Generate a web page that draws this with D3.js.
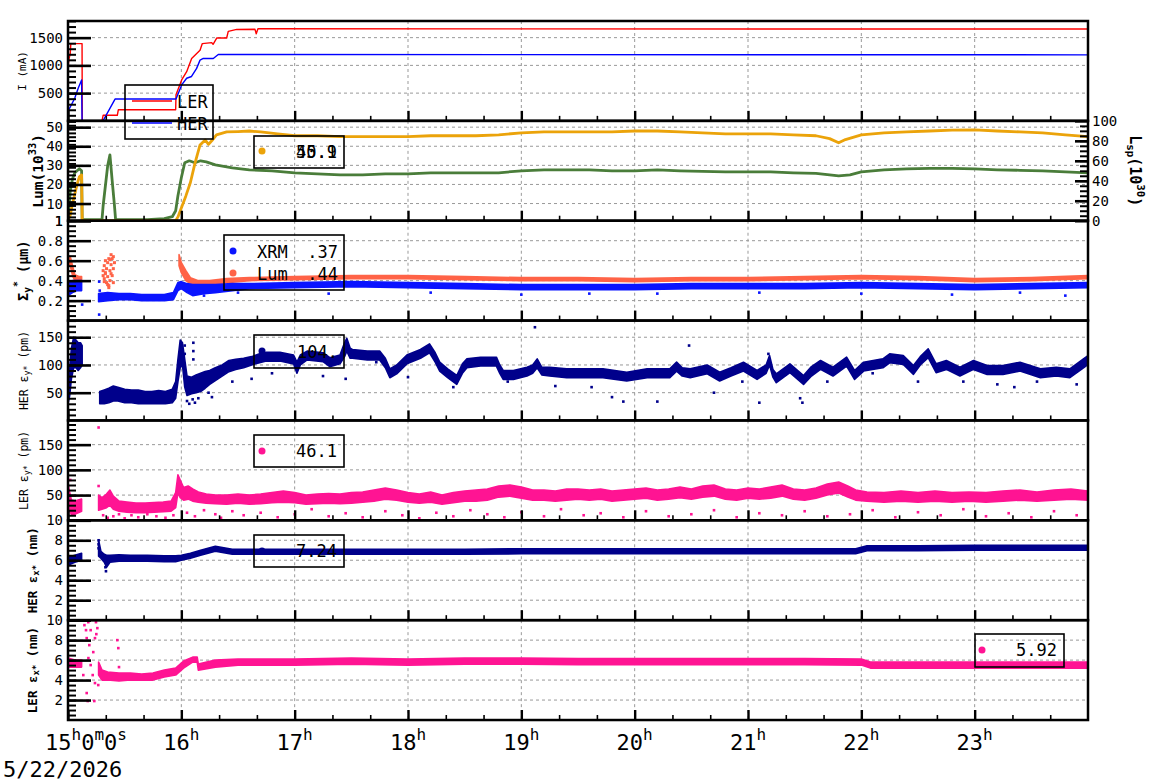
<!DOCTYPE html>
<html><head><meta charset="utf-8">
<script src="https://cdn.jsdelivr.net/npm/d3@7"></script>
<style>body{margin:0;background:#fff} text{font-family:"DejaVu Sans Mono",monospace;fill:#000}</style>
</head><body><svg id="c" width="1160" height="782"></svg>
<script>
// ---------------- DATA ----------------
const hourTicks = [15,16,17,18,19,20,21,22,23];
const hourTickLabels = ["15h0m0s","16h","17h","18h","19h","20h","21h","22h","23h"];
const dateLabel = "5/22/2026";

// Panel 1: beam currents (mA)
const lerCurrent = [[15.00,975],[15.01,1125],[15.02,1214],[15.025,1393],[15.124,1393],[15.126,0],[15.30,0],[15.31,100],[15.435,100],[15.444,200],[15.95,200],[15.953,470],[16.003,737],[16.047,886],[16.091,1125],[16.165,1273],[16.185,1393],[16.268,1410],[16.28,1380],[16.312,1493],[16.40,1493],[16.414,1612],[16.489,1648],[16.65,1650],[16.661,1570],[16.676,1660],[24.0,1655]];
const herCurrent = [[15.00,171],[15.03,291],[15.06,411],[15.09,589],[15.12,737],[15.124,0],[15.309,0],[15.415,393],[15.953,393],[16.003,648],[16.047,768],[16.09,800],[16.135,946],[16.165,1095],[16.194,1125],[16.282,1125],[16.326,1196],[24.0,1190]];

// Panel 2: luminosity (left, 1e33) and specific luminosity (right, 1e30)
const lumValues = [[15.00,1],[15.02,4],[15.04,10],[15.06,15],[15.08,20],[15.10,24],[15.12,25],[15.125,1],[15.95,1],[15.97,3],[16.00,7.6],[16.04,14],[16.08,21],[16.12,31],[16.165,40.7],[16.21,43.3],[16.24,41],[16.27,43],[16.31,46],[16.40,47.5],[16.50,47.7],[16.60,48],[16.70,47.5],[16.85,46.5],[17.00,45.5],[17.20,45.5],[17.40,45],[17.60,45],[17.80,45],[18.00,45],[18.20,45.5],[18.40,45.5],[18.60,45.5],[18.80,46],[19.00,47],[19.20,47.5],[19.40,47.5],[19.60,47.5],[19.80,47.5],[20.00,48],[20.20,48],[20.40,47.5],[20.60,47],[20.80,46.5],[21.00,46.5],[21.20,46.5],[21.40,46],[21.60,45.5],[21.72,44],[21.80,41.8],[21.86,43.5],[22.00,46],[22.20,47],[22.40,47.5],[22.60,48],[22.80,48.5],[23.00,48.6],[23.20,48],[23.40,47.5],[23.60,47],[23.80,46],[24.00,45]];
const lspValues = [[15.00,0],[15.01,15],[15.02,30],[15.04,42],[15.06,48],[15.08,50],[15.10,52],[15.12,50],[15.125,1],[15.30,1],[15.31,15],[15.33,35],[15.35,55],[15.37,66],[15.39,40],[15.41,15],[15.42,1],[15.70,1],[15.85,2],[15.92,4],[15.95,10],[15.97,25],[16.00,43],[16.03,58],[16.07,60],[16.12,58],[16.17,60],[16.22,59],[16.30,56],[16.45,53],[16.60,51],[16.80,50],[17.00,48],[17.20,47],[17.40,46],[17.60,46],[17.80,47],[18.00,47],[18.20,48],[18.40,48],[18.60,48],[18.80,48],[19.00,50],[19.20,51],[19.40,51],[19.60,51],[19.80,50],[20.00,50],[20.20,51],[20.40,50],[20.60,49.5],[20.80,49],[21.00,49],[21.20,49],[21.40,48],[21.60,47.5],[21.80,45],[21.90,46],[22.00,49],[22.20,51],[22.40,52],[22.60,52.5],[22.80,52.5],[23.00,52],[23.20,51],[23.40,50.5],[23.60,50],[23.80,49],[24.00,48]];
const lumLegendValues = ["45.1","50.9"];

// Panel 3: vertical beam size (um), bands [time, low, high]
const xrmBand = [[15.00,0.25,0.38],[15.04,0.28,0.40],[15.08,0.30,0.40],[15.12,0.30,0.40],null,[15.27,0.19,0.27],[15.35,0.20,0.28],[15.45,0.21,0.27],[15.55,0.21,0.27],[15.65,0.20,0.26],[15.75,0.20,0.26],[15.85,0.20,0.26],[15.93,0.21,0.28],[15.97,0.30,0.38],[16.00,0.32,0.39],[16.05,0.28,0.37],[16.10,0.25,0.36],[16.20,0.27,0.36],[16.30,0.28,0.36],[16.45,0.30,0.37],[16.60,0.32,0.37],[17.0,0.33,0.38],[17.5,0.34,0.39],[18.0,0.33,0.38],[18.5,0.32,0.37],[19.0,0.31,0.36],[19.5,0.31,0.36],[20.0,0.31,0.36],[20.5,0.32,0.37],[21.0,0.32,0.37],[21.5,0.32,0.37],[22.0,0.33,0.38],[22.5,0.32,0.37],[23.0,0.31,0.36],[23.5,0.32,0.37],[24.0,0.33,0.38]];
const xrmOutliers = [[15.275,0.39],[15.275,0.06],[15.125,0.16],[15.28,0.30],[16.2,0.25],[16.5,0.28],[17.3,0.27],[18.2,0.28],[19.0,0.26],[19.6,0.27],[20.2,0.27],[21.1,0.28],[22.0,0.27],[22.8,0.26],[23.4,0.28],[23.8,0.25]];
const lumSizeBand = [[15.00,0.58,0.64],[15.02,0.55,0.64],[15.04,0.45,0.55],[15.06,0.40,0.46],[15.10,0.39,0.44],[15.12,0.39,0.44],null,[15.98,0.55,0.66],[16.00,0.48,0.58],[16.04,0.40,0.50],[16.08,0.37,0.43],[16.15,0.36,0.40],[16.25,0.36,0.40],[16.40,0.38,0.42],[16.60,0.40,0.43],[17.0,0.41,0.44],[17.5,0.42,0.45],[18.0,0.42,0.45],[18.5,0.41,0.44],[19.0,0.40,0.43],[19.5,0.40,0.43],[20.0,0.39,0.42],[20.5,0.40,0.43],[21.0,0.40,0.43],[21.5,0.41,0.44],[22.0,0.42,0.45],[22.5,0.41,0.44],[23.0,0.39,0.42],[23.5,0.40,0.43],[24.0,0.42,0.45]];
const lumSizePoints = [[15.31,0.45],[15.31,0.50],[15.32,0.55],[15.32,0.42],[15.33,0.60],[15.33,0.48],[15.34,0.38],[15.34,0.52],[15.35,0.58],[15.35,0.44],[15.36,0.35],[15.36,0.62],[15.37,0.50],[15.37,0.40],[15.38,0.66],[15.38,0.56],[15.39,0.45],[15.39,0.62],[15.40,0.52],[15.40,0.38],[15.41,0.58],[15.36,0.33],[15.33,0.47],[15.38,0.47],[15.35,0.36],[15.37,0.61],[15.40,0.64],[15.32,0.39]];
const sizeLegend = [["XRM",".37"],["Lum",".44"]];

// Panel 4: HER vertical emittance (pm)
const herEyBand = [[15.00,30,65],[15.015,45,95],[15.03,75,130],[15.05,95,150],[15.07,95,145],[15.09,90,140],[15.11,95,140],[15.125,100,135],null,
[15.28,30,52],[15.32,30,55],[15.36,32,58],[15.40,35,62],[15.44,35,60],[15.50,32,56],[15.56,32,55],[15.62,30,55],[15.68,30,52],[15.74,30,52],[15.80,30,54],[15.86,30,52],[15.92,32,56],[15.95,40,70],[15.97,70,110],[15.99,95,145],[16.01,100,140],[16.03,60,110],[16.05,45,80],[16.09,48,78],[16.13,50,82],[16.17,52,85],[16.21,58,88],[16.25,65,90],[16.30,72,95],[16.36,80,100],[16.42,88,108],[16.48,92,110],[16.55,95,112],[16.62,100,115],[16.69,104,120],[16.75,107,123],[16.87,107,123],[16.99,102,118],[17.02,85,105],[17.05,100,118],[17.11,109,125],[17.25,106,122],[17.31,97,113],[17.40,102,118],[17.44,115,140],[17.46,125,148],[17.49,112,130],[17.51,112,128],[17.64,109,125],[17.75,109,125],[17.80,95,112],[17.84,77,93],[17.90,84,100],[17.99,102,118],[18.11,112,128],[18.19,122,138],[18.24,105,122],[18.28,89,105],[18.35,77,93],[18.43,65,81],[18.48,85,102],[18.52,95,111],[18.64,98,114],[18.78,98,114],[18.81,85,100],[18.84,74,90],[18.93,74,90],[19.05,80,96],[19.10,85,100],[19.14,95,111],[19.18,82,96],[19.25,80,96],[19.40,77,93],[19.72,77,93],[19.93,71,87],[20.11,77,93],[20.31,77,93],[20.37,89,105],[20.42,80,95],[20.49,77,93],[20.64,84,100],[20.75,71,87],[20.85,80,95],[20.96,89,105],[21.08,74,90],[21.16,85,100],[21.19,100,117],[21.22,78,92],[21.25,68,84],[21.37,86,102],[21.49,65,81],[21.56,80,97],[21.64,92,108],[21.75,80,96],[21.87,98,114],[21.94,74,90],[22.02,89,105],[22.19,95,111],[22.25,104,120],[22.37,101,117],[22.46,83,99],[22.52,100,115],[22.59,113,129],[22.66,86,102],[22.75,92,108],[22.87,80,96],[22.99,92,108],[23.11,83,99],[23.25,83,99],[23.40,89,105],[23.58,77,93],[23.72,80,96],[23.84,77,93],[23.96,95,111],[24.0,101,117]];
const herEyOutliers = [[16.05,35],[16.07,30],[16.10,38],[16.12,32],[16.15,40],[16.106,140],[16.106,125],[16.106,110],[16.03,135],[16.03,120],[16.24,50],[16.27,42],[16.45,70],[16.62,75],[16.80,85],[17.25,80],[17.45,75],[17.72,105],[18.00,78],[18.40,60],[18.88,70],[19.12,168],[19.30,62],[19.62,60],[19.80,42],[19.90,34],[20.20,34],[20.48,135],[20.70,50],[20.95,70],[21.10,32],[21.18,120],[21.46,40],[21.48,32],[21.70,70],[22.10,85],[22.50,70],[22.90,70],[23.20,65],[23.35,60],[23.55,70],[23.90,65]];
const herEyLegend = "104.";

// Panel 5: LER vertical emittance (pm)
const lerEyBand = [[15.00,40,75],[15.01,20,60],[15.03,12,40],[15.06,12,38],[15.09,15,40],[15.12,18,42],null,
[15.27,20,50],[15.30,22,45],[15.34,25,52],[15.37,30,60],[15.40,22,48],[15.45,18,38],[15.52,16,36],[15.60,15,34],[15.68,15,34],[15.76,16,35],[15.84,17,36],[15.91,18,38],[15.95,25,55],[15.97,55,90],[15.99,45,80],[16.02,40,65],[16.06,42,68],[16.10,38,62],[16.15,36,56],[16.22,34,52],[16.30,33,50],[16.40,32,50],[16.50,34,52],[16.60,32,50],[16.70,33,52],[16.80,35,55],[16.90,36,58],[17.00,35,55],[17.10,32,50],[17.20,33,52],[17.30,34,53],[17.40,33,52],[17.50,34,55],[17.60,36,56],[17.70,38,60],[17.80,42,64],[17.90,40,60],[18.00,36,55],[18.10,34,52],[18.20,36,56],[18.30,32,50],[18.40,35,55],[18.50,38,58],[18.60,38,60],[18.70,40,62],[18.80,46,68],[18.90,48,70],[19.00,44,66],[19.10,40,60],[19.20,40,60],[19.30,38,58],[19.40,40,62],[19.50,42,62],[19.60,40,60],[19.70,42,62],[19.80,38,58],[19.90,40,60],[20.00,42,62],[20.10,44,64],[20.20,40,60],[20.30,42,62],[20.40,45,66],[20.50,42,62],[20.60,46,68],[20.70,48,70],[20.80,42,62],[20.90,40,60],[21.00,44,64],[21.10,42,62],[21.20,44,66],[21.30,48,70],[21.40,42,62],[21.50,40,60],[21.60,44,64],[21.70,50,72],[21.80,54,76],[21.88,46,68],[21.95,40,60],[22.05,38,56],[22.20,36,55],[22.35,38,58],[22.50,36,55],[22.65,38,58],[22.80,36,55],[22.95,38,56],[23.10,36,55],[23.25,38,58],[23.40,40,60],[23.55,38,56],[23.70,40,60],[23.85,42,62],[24.0,40,58]];
const lerEyOutliers = [[15.27,184],[15.27,68],[15.02,80],[15.31,10],[15.35,5],[15.40,8],[15.45,12],[15.50,4],[15.56,10],[15.62,6],[15.70,12],[15.78,8],[15.86,5],[15.93,10],[16.05,15],[16.12,8],[16.20,20],[16.30,12],[16.35,5],[16.45,18],[16.55,10],[16.70,15],[16.85,6],[17.00,12],[17.15,22],[17.30,8],[17.45,14],[17.60,6],[17.80,18],[17.95,10],[18.10,4],[18.25,15],[18.40,8],[18.55,20],[18.70,12],[18.85,6],[19.00,16],[19.20,8],[19.35,22],[19.55,10],[19.70,14],[19.90,6],[20.10,18],[20.30,8],[20.50,12],[20.70,20],[20.90,6],[21.10,14],[21.30,10],[21.50,18],[21.70,8],[21.90,12],[22.10,20],[22.30,6],[22.50,16],[22.70,10],[22.90,22],[23.10,8],[23.30,14],[23.50,6],[23.70,18],[23.90,10]];
const lerEyLegend = "46.1";

// Panel 6: HER horizontal emittance (nm)
const herExBand = [[15.00,5.5,6.3],[15.06,5.8,6.5],[15.12,6.0,6.7],null,[15.27,6.4,8.0],[15.29,6.2,6.9],[15.32,5.8,6.6],[15.34,5.3,6.5],[15.37,5.8,6.5],[15.45,5.9,6.55],[15.55,5.9,6.5],[15.70,5.9,6.5],[15.85,5.85,6.45],[15.95,5.85,6.45],[16.00,6.0,6.5],[16.08,6.2,6.7],[16.17,6.5,7.0],[16.30,6.9,7.4],[16.45,6.6,7.1],[16.60,6.6,7.1],[17.0,6.6,7.1],[17.5,6.6,7.1],[18.0,6.6,7.1],[18.5,6.6,7.1],[19.0,6.65,7.15],[19.5,6.65,7.15],[20.0,6.65,7.15],[20.5,6.65,7.15],[21.0,6.65,7.15],[21.5,6.65,7.15],[21.95,6.65,7.15],[22.05,6.95,7.45],[22.5,6.95,7.45],[23.0,7.0,7.5],[23.5,7.0,7.5],[24.0,7.0,7.5]];
const herExOutliers = [[15.27,8.0],[15.27,7.6],[15.27,7.2],[15.335,4.9],[15.33,5.3],[15.34,5.6]];
const herExLegend = "7.24";

// Panel 7: LER horizontal emittance (nm)
const lerExBand = [[15.00,5.3,6.2],[15.06,5.3,6.0],[15.12,5.3,6.0],null,[15.27,4.5,5.8],[15.30,4.0,5.0],[15.35,4.0,4.8],[15.45,3.9,4.7],[15.55,4.0,4.7],[15.65,4.0,4.6],[15.75,4.0,4.7],[15.85,4.3,5.0],[15.95,4.5,5.2],[16.02,5.2,5.9],[16.10,5.8,6.3],[16.14,5.8,6.3],[16.15,5.0,5.6],[16.30,5.3,6.0],[16.5,5.5,6.1],[17.0,5.5,6.1],[17.5,5.6,6.2],[18.0,5.5,6.1],[18.5,5.6,6.2],[19.0,5.6,6.2],[19.5,5.55,6.15],[20.0,5.55,6.15],[20.5,5.55,6.15],[21.0,5.55,6.15],[21.5,5.55,6.15],[22.0,5.5,6.1],[22.08,5.2,5.8],[22.5,5.2,5.8],[23.0,5.2,5.8],[23.5,5.2,5.8],[24.0,5.2,5.8]];
const lerExOutliers = [[15.15,10],[15.159,9],[15.179,9.8],[15.165,8.2],[15.188,7.5],[15.223,6.8],[15.247,9.8],[15.259,9.2],[15.238,8.2],[15.2,5.5],[15.238,3.7],[15.267,3.5],[15.165,2.7],[15.174,1.9],[15.232,1.9],[15.435,8],[15.444,7.2],[15.45,5.3],[15.135,4.5],[15.218,4.5],[15.145,9.5],[15.2,9.0],[15.25,8.6],[15.18,6.2]];
const lerExLegend = "5.92";

// ---------------- DRAWING ----------------
const L = 68, R = 1088, T = 21, PH = 99.86;
const svg = d3.select("#c");
const x = d3.scaleLinear().domain([15, 24]).range([L, R]);

const panels = [
  {dom:[0,1800], major:[500,1000,1500], minor:100, title:[["I (mA)"]], tx:22, ts:11, bold:false},
  {dom:[1,53.3], major:[1,10,20,30,40,50], minor:2, title:[["Lum(10"],["33","sup"],[")"]], tx:38, ts:14.5, bold:true},
  {dom:[0,1], major:[0.2,0.4,0.6,0.8,1], fmt:d=>d===1?"1":d3.format(".1f")(d), minor:0.05, title:[["Σ"],["y","sub"],["*","sup"],[" (μm)"]], tx:23, ts:13.5, bold:true},
  {dom:[0,180], major:[50,100,150], minor:10, title:[["HER ε"],["y*","sub"],[" (pm)"]], tx:24, ts:11.5, bold:false},
  {dom:[0,198], major:[50,100,150], minor:10, title:[["LER ε"],["y*","sub"],[" (pm)"]], tx:24, ts:11.5, bold:false},
  {dom:[0,10], major:[2,4,6,8,10], minor:0.5, title:[["HER ε"],["x*","sub"],[" (nm)"]], tx:32, ts:12.5, bold:true},
  {dom:[0,10], major:[2,4,6,8,10], minor:0.5, title:[["LER ε"],["x*","sub"],[" (nm)"]], tx:32, ts:12.5, bold:true}
];

function rich(textSel, parts, size){
  let off = 0;
  parts.forEach(([s,k])=>{
    const fs = k ? size*0.72 : size;
    const target = k==='sup' ? -size*0.42 : k==='sub' ? size*0.28 : 0;
    textSel.append("tspan").attr("font-size", fs).attr("dy", target-off).text(s);
    off = target;
  });
}

const defs = svg.append("defs");
const yScales = [];
panels.forEach((p,i)=>{
  const top = T + i*PH, bot = top + PH;
  const y = d3.scaleLinear().domain(p.dom).range([bot, top]);
  yScales.push(y);
  defs.append("clipPath").attr("id","clip"+i).append("rect").attr("x",L).attr("y",top).attr("width",R-L).attr("height",PH);
  const g = svg.append("g");
  const grid = g.append("g").attr("stroke","#999").attr("stroke-width",1).attr("stroke-dasharray","3,3");
  hourTicks.slice(1).forEach(h=>grid.append("line").attr("x1",x(h)).attr("x2",x(h)).attr("y1",top).attr("y2",bot));
  p.major.filter(v=>v>p.dom[0] && v<p.dom[1]).forEach(v=>grid.append("line").attr("x1",L).attr("x2",R).attr("y1",y(v)).attr("y2",y(v)));
  p.top = top; p.bot = bot;
});

const yR = d3.scaleLinear().domain([0,100]).range([T+2*PH, T+PH]);

function band(i, data, color){
  const y = yScales[i];
  const area = d3.area().defined(d=>d!==null).x(d=>x(d[0])).y0(d=>y(d[1])).y1(d=>y(d[2]));
  svg.append("path").datum(data).attr("clip-path",`url(#clip${i})`).attr("d",area)
    .attr("fill",color).attr("stroke",color).attr("stroke-width",1.6).attr("stroke-linejoin","round");
}
function pts(i, data, color, s=2.6){
  const y = yScales[i];
  svg.append("g").attr("clip-path",`url(#clip${i})`).selectAll("rect").data(data).join("rect")
    .attr("x",d=>x(d[0])-s/2).attr("y",d=>y(d[1])-s/2).attr("width",s).attr("height",s).attr("fill",color);
}
function line(i, data, color, w, yS){
  const y = yS || yScales[i];
  const ln = d3.line().x(d=>x(d[0])).y(d=>y(d[1]));
  svg.append("path").datum(data).attr("clip-path",`url(#clip${i})`).attr("d",ln)
    .attr("fill","none").attr("stroke",color).attr("stroke-width",w).attr("stroke-linejoin","round");
}

const cRed="#ff0000", cBlue="#0000ff", cOrange="#eba30a", cGreen="#4a7d3a", cXrm="#0a14ff", cTomato="#ff6347", cNavy="#00008b", cPink="#ff1493";

line(0, lerCurrent, cRed, 1.4);
line(0, herCurrent, cBlue, 1.4);
line(1, lspValues, cGreen, 2.8, yR);
line(1, lumValues, cOrange, 2.8);
band(2, lumSizeBand, cTomato);
pts(2, lumSizePoints, cTomato, 3);
band(2, xrmBand, cXrm);
pts(2, xrmOutliers, cXrm);
band(3, herEyBand, cNavy);
pts(3, herEyOutliers, cNavy);
band(4, lerEyBand, cPink);
pts(4, lerEyOutliers, cPink);
band(5, herExBand, cNavy);
pts(5, herExOutliers, cNavy);
band(6, lerExBand, cPink);
pts(6, lerExOutliers, cPink);

panels.forEach((p,i)=>{
  const y = yScales[i];
  const ag = svg.append("g");
  const minorVals = d3.range(p.dom[0], p.dom[1]+1e-9, p.minor).filter(v=>v>p.dom[0]);
  ag.append("g").attr("transform",`translate(${L},0)`).call(d3.axisRight(y).tickValues(minorVals).tickSize(8).tickFormat(""))
    .call(s=>{s.select(".domain").remove(); s.selectAll("line").attr("stroke-width",2);});
  ag.append("g").attr("transform",`translate(${L},0)`).call(d3.axisRight(y).tickValues(p.major).tickSize(23).tickFormat(""))
    .call(s=>{s.select(".domain").remove(); s.selectAll("line").attr("stroke-width",2.6);});
  ag.append("g").attr("transform",`translate(${L},0)`).call(d3.axisLeft(y).tickValues(p.major).tickSize(0).tickPadding(5).tickFormat(p.fmt||(d=>String(d))))
    .call(s=>{s.select(".domain").remove(); s.selectAll("text").attr("font-size",14).attr("font-family","DejaVu Sans Mono").attr("fill","#000");});
  const minorX = d3.range(15, 24, 1/3).filter(v=>Math.abs(v-Math.round(v))>0.01);
  ag.append("g").attr("transform",`translate(0,${p.bot})`).call(d3.axisTop(x).tickValues(minorX).tickSize(5).tickFormat(""))
    .call(s=>{s.select(".domain").remove(); s.selectAll("line").attr("stroke-width",1.6);});
  ag.append("g").attr("transform",`translate(0,${p.bot})`).call(d3.axisTop(x).tickValues(hourTicks).tickSize(10).tickFormat(""))
    .call(s=>{s.select(".domain").remove(); s.selectAll("line").attr("stroke-width",2.4);});
  ag.append("rect").attr("x",L).attr("y",p.top).attr("width",R-L).attr("height",PH).attr("fill","none").attr("stroke","#000").attr("stroke-width",2.5);
  const cy = p.top + PH/2;
  const t = svg.append("text").attr("transform",`translate(${p.tx},${cy}) rotate(-90)`).attr("text-anchor","middle")
    .attr("dominant-baseline","central").attr("font-weight",p.bold?"bold":"normal");
  rich(t, p.title, p.ts);
});

const rg = svg.append("g");
rg.append("g").attr("transform",`translate(${R},0)`).call(d3.axisLeft(yR).tickValues(d3.range(5,100,5)).tickSize(8).tickFormat(""))
  .call(s=>{s.select(".domain").remove(); s.selectAll("line").attr("stroke-width",2);});
rg.append("g").attr("transform",`translate(${R},0)`).call(d3.axisLeft(yR).tickValues([0,20,40,60,80,100]).tickSize(13).tickFormat(""))
  .call(s=>{s.select(".domain").remove(); s.selectAll("line").attr("stroke-width",2.6);});
rg.append("g").attr("transform",`translate(${R},0)`).call(d3.axisRight(yR).tickValues([0,20,40,60,80,100]).tickSize(0).tickPadding(4))
  .call(s=>{s.select(".domain").remove(); s.selectAll("text").attr("font-size",14).attr("font-family","DejaVu Sans Mono").attr("fill","#000");});
const rt = svg.append("text").attr("transform",`translate(1135,${T+PH*1.5}) rotate(90)`).attr("text-anchor","middle")
  .attr("dominant-baseline","central").attr("font-weight","bold");
rich(rt, [["L"],["sp","sub"],["(10"],["30","sup"],[")"]], 15);

hourTicks.forEach((h,i)=>{
  const lab = hourTickLabels[i];
  const t = svg.append("text").attr("y",750);
  if(i===0){ t.attr("x",45).attr("text-anchor","start"); }
  else { t.attr("x",x(h)).attr("text-anchor","middle"); }
  const parts = lab.split(/([hms])/).filter(s=>s.length).map(s=>/^[hms]$/.test(s)?[s,"sup"]:[s]);
  let off=0;
  parts.forEach(([s,k])=>{
    const target = k ? -10 : 0;
    t.append("tspan").attr("font-size", k?16:22).attr("dy", target-off).text(s);
    off = target;
  });
});
svg.append("text").attr("x",3).attr("y",777).attr("font-size",22).text(dateLabel);

function box(x0,y0,w,h){ svg.append("rect").attr("x",x0).attr("y",y0).attr("width",w).attr("height",h).attr("fill","none").attr("stroke","#000").attr("stroke-width",1.6); }
function dot(cx,cy,c){ svg.append("circle").attr("cx",cx).attr("cy",cy).attr("r",3.5).attr("fill",c); }
function txt(x0,y0,s,anchor){ svg.append("text").attr("x",x0).attr("y",y0).attr("font-size",17).attr("text-anchor",anchor||"start").text(s); }

box(125,85,88,54);
svg.append("line").attr("x1",132).attr("x2",172).attr("y1",101).attr("y2",101).attr("stroke",cRed).attr("stroke-width",1.4);
svg.append("line").attr("x1",132).attr("x2",172).attr("y1",123).attr("y2",123).attr("stroke",cBlue).attr("stroke-width",1.4);
txt(177,108,"LER"); txt(177,130,"HER");

box(254,136,90,32); dot(262,151,cOrange);
lumLegendValues.forEach(v=>txt(337,158,v,"end"));

box(224,235,120,55);
dot(233,251,cXrm); dot(233,273,cTomato);
txt(257,258,sizeLegend[0][0]); txt(338,258,sizeLegend[0][1],"end");
txt(257,280,sizeLegend[1][0]); txt(338,280,sizeLegend[1][1],"end");

box(254,335,90,33); dot(262,351,cNavy); txt(297,358,herEyLegend);
box(254,435,90,32); dot(262,451,cPink); txt(337,457,lerEyLegend,"end");
box(254,535,90,32); dot(262,551,cNavy); txt(337,557,herExLegend,"end");
box(975,634,89,33); dot(982,650,cPink); txt(1057,656,lerExLegend,"end");
</script></body></html>
